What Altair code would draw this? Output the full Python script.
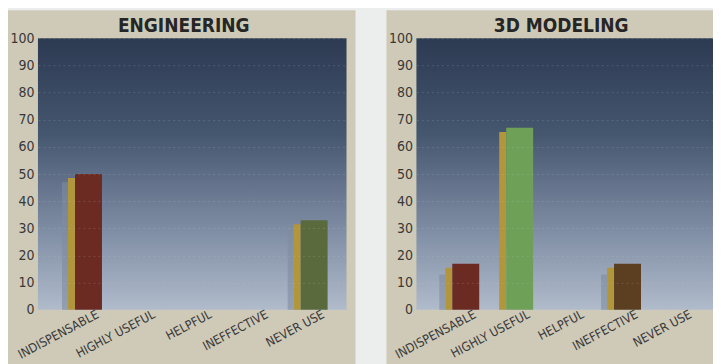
import altair as alt
import pandas as pd

# ---- data ----
CATEGORIES = ["INDISPENSABLE", "HIGHLY USEFUL", "HELPFUL", "INEFFECTIVE", "NEVER USE"]
PANEL_TITLES = ["ENGINEERING", "3D MODELING"]
ENG_VALUES = [50, 0, 0, 0, 33]
ENG_SHADOW = [47, 0, 0, 0, 29]
MOD_VALUES = [17, 67, 0, 17, 0]
MOD_SHADOW = [13, 0, 0, 13, 0]
Y_TICKS = [0, 10, 20, 30, 40, 50, 60, 70, 80, 90, 100]

# ---- styles ----
ENG_COLORS = ["#6b2b22", "#72a05c", "#6b2b22", "#5e4222", "#5b6a3c"]
MOD_COLORS = ["#6b2b22", "#6fa058", "#6b2b22", "#5c3f20", "#5b6a3c"]
BEIGE = "#cfcab8"
PAGE = "#eceeed"
TEXT = "#383838"
TITLE_FONT = "'Liberation Sans Narrow', 'DejaVu Sans Condensed', sans-serif"
LABEL_FONT = "'DejaVu Sans Condensed', 'DejaVu Sans', sans-serif"
H = 272

GRAD = alt.Gradient(
    gradient="linear",
    stops=[
        alt.GradientStop(offset=0, color="#2c3a52"),
        alt.GradientStop(offset=0.35, color="#45566f"),
        alt.GradientStop(offset=0.7, color="#7e8ca3"),
        alt.GradientStop(offset=1, color="#b0bbcb"),
    ],
    x1=0, x2=0, y1=0, y2=1,
)


def panel(title, values, shadow, colors, width, right_margin, pad_outer,
          align, title_x):
    df = pd.DataFrame({"cat": CATEGORIES, "value": values,
                       "shadow": shadow, "color": colors})
    one = alt.Chart(pd.DataFrame({"t": [title]}))

    X = alt.X(
        "cat:N", sort=CATEGORIES,
        scale=alt.Scale(domain=CATEGORIES, paddingInner=0,
                        paddingOuter=pad_outer, align=align),
        axis=alt.Axis(title=None, labelAngle=-28, labelFontSize=12.5,
                      labelFont=LABEL_FONT, labelColor=TEXT, ticks=False,
                      domain=False, labelOffset=10, labelPadding=-2,
                      labelAlign="right", labelBaseline="top", zindex=1),
    )
    yscale = alt.Scale(domain=[0, 100], nice=False)
    yaxis = alt.Axis(title=None, values=Y_TICKS, labelFontSize=14,
                     labelFont=LABEL_FONT, labelColor=TEXT, ticks=False,
                     domain=False, labelPadding=4, grid=True,
                     gridColor="#c8d0dc", gridOpacity=0.18,
                     gridDash=[2, 3], zindex=1)

    panel_bg = one.mark_rect(color=BEIGE).encode(
        x=alt.value(-30), x2=alt.value(width + right_margin),
        y=alt.value(-28), y2=alt.value(H + 70))
    plot_bg = one.mark_rect(color=GRAD).encode(
        x=alt.value(0), x2=alt.value(width), y=alt.value(0), y2=alt.value(H))
    title_txt = one.mark_text(font=TITLE_FONT, fontSize=19, fontWeight="bold",
                              color="#262626", align="center",
                              baseline="alphabetic").encode(
        x=alt.value(title_x), y=alt.value(-6), text="t:N")

    bars = alt.Chart(df)
    shadow_l = bars.transform_filter("datum.shadow > 0").mark_bar(
        size=6, xOffset=-20, color="#7f8ca0", opacity=0.6).encode(
        x=X, y=alt.Y("shadow:Q", scale=yscale, axis=yaxis))
    side_l = bars.transform_filter("datum.value > 0").transform_calculate(
        side="max(datum.value - 1.5, 0)").mark_bar(
        size=7, xOffset=-13.5, color="#b2963c").encode(
        x=X, y=alt.Y("side:Q", scale=yscale, axis=yaxis))
    front_l = bars.transform_filter("datum.value > 0").mark_bar(
        size=27, xOffset=3.5).encode(
        x=X, y=alt.Y("value:Q", scale=yscale, axis=yaxis),
        color=alt.Color("color:N", scale=None))

    return alt.layer(panel_bg, plot_bg, shadow_l, side_l, front_l,
                     title_txt).properties(width=width, height=H)


left = panel(PANEL_TITLES[0], ENG_VALUES, ENG_SHADOW, ENG_COLORS,
             width=309, right_margin=9, pad_outer=0.235, align=0.71,
             title_x=146)
right = panel(PANEL_TITLES[1], MOD_VALUES, MOD_SHADOW, MOD_COLORS,
              width=297, right_margin=0, pad_outer=0.25, align=0.70,
              title_x=145)

chart = alt.hconcat(left, right, spacing=31).properties(
    padding={"left": 0, "top": 2, "right": 0, "bottom": 0},
    background=PAGE,
).configure_view(stroke=None)

chart.save("out.html", embed_options={"renderer": "svg", "actions": False})
